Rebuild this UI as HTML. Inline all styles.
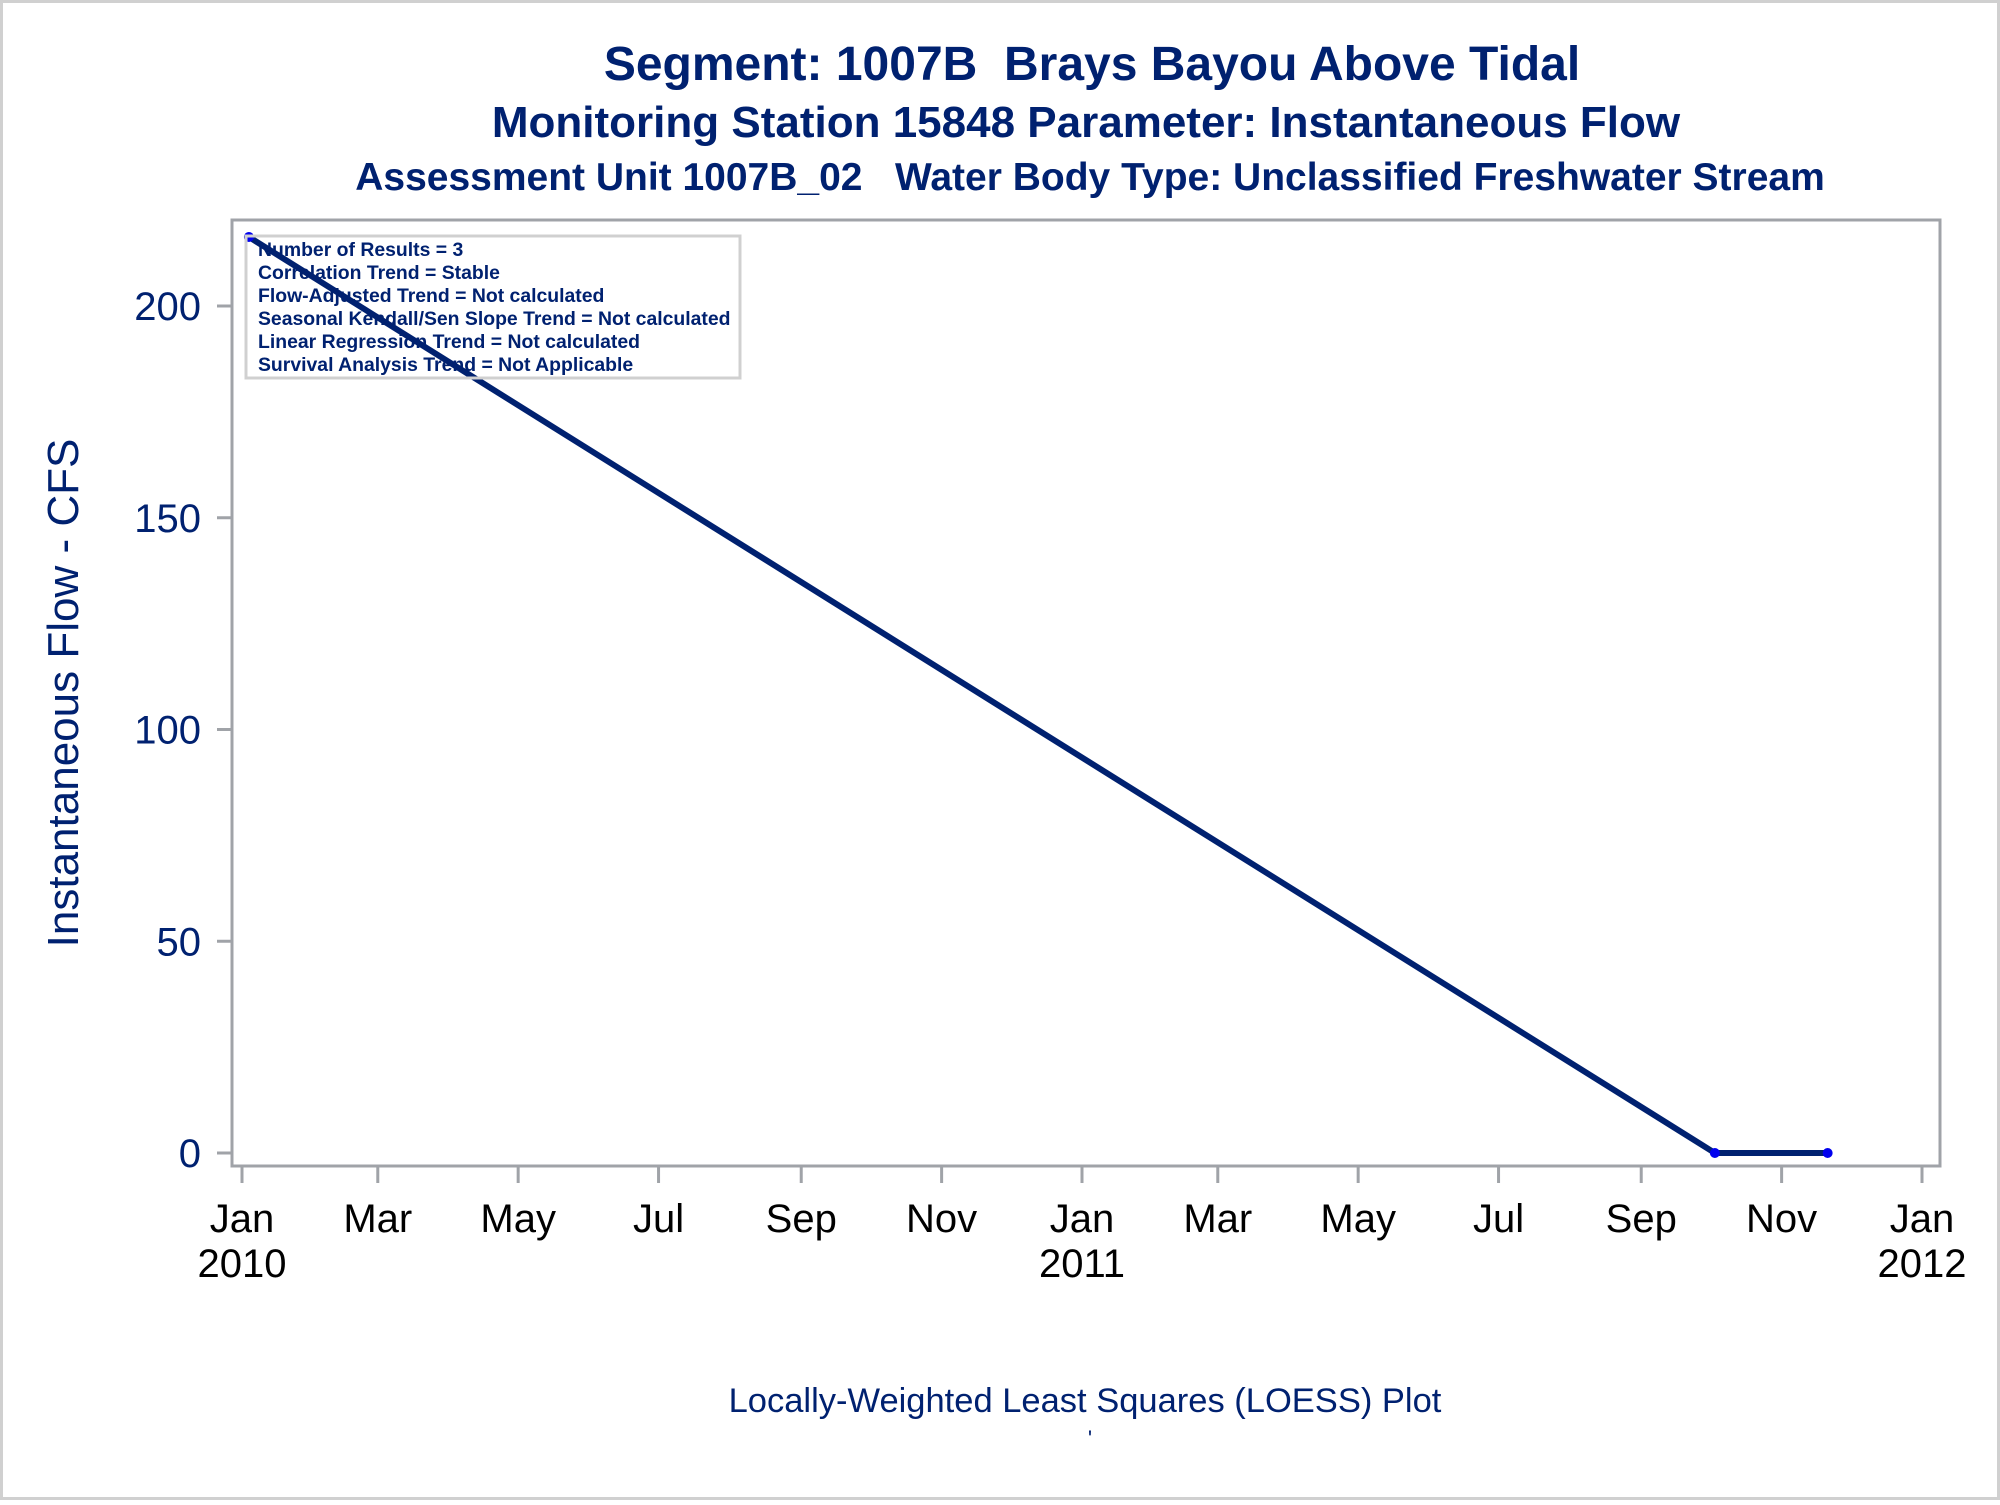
<!DOCTYPE html>
<html><head><meta charset="utf-8"><style>
body{margin:0;background:#fff}
svg text{font-family:"Liberation Sans",Arial,sans-serif;white-space:pre}
</style></head><body>
<svg width="2000" height="1500" viewBox="0 0 2000 1500" xmlns="http://www.w3.org/2000/svg">
<rect x="1.5" y="1.5" width="1997" height="1497" fill="#fff" stroke="#d0d0d0" stroke-width="3"/>
<g fill="#002170" font-weight="bold" text-anchor="middle">
<text x="1092" y="80" font-size="48" xml:space="preserve">Segment: 1007B  Brays Bayou Above Tidal</text>
<text x="1086" y="137" font-size="44">Monitoring Station 15848 Parameter: Instantaneous Flow</text>
<text x="1090" y="190" font-size="39" xml:space="preserve">Assessment Unit 1007B_02   Water Body Type: Unclassified Freshwater Stream</text>
</g>
<rect x="232" y="220" width="1708" height="946" fill="none" stroke="#a0a3a8" stroke-width="3"/>
<g id="yaxis"></g>
<g id="xaxis"></g>
<text transform="translate(78,693) rotate(-90)" text-anchor="middle" font-size="44" fill="#002170">Instantaneous Flow - CFS</text>
<g id="series"></g>
<g>
<rect x="246" y="236" width="494" height="142" fill="none" stroke="#d0d0d0" stroke-width="3"/>
<g font-family="'Liberation Sans Narrow','Liberation Sans',sans-serif" font-weight="bold" font-size="19.4" fill="#002170" id="stats"></g>
</g>
<text x="1085" y="1412" text-anchor="middle" font-size="34.5" fill="#002170">Locally-Weighted Least Squares (LOESS) Plot</text>
<text x="1090" y="1446" text-anchor="middle" font-size="22" fill="#002170">'</text>
</svg>
<script>
const dates=["2010-01-04","2011-10-03","2011-11-21"];
const values=[216.3,0,0];
const fitDates=["2010-01-04","2011-10-03","2011-11-21"];
const fitValues=[216.3,0,0];
const yTicks=[0,50,100,150,200];
const xTickDates=["2010-01-01","2010-03-01","2010-05-01","2010-07-01","2010-09-01","2010-11-01","2011-01-01","2011-03-01","2011-05-01","2011-07-01","2011-09-01","2011-11-01","2012-01-01"];
const xTickLabels=["Jan","Mar","May","Jul","Sep","Nov","Jan","Mar","May","Jul","Sep","Nov","Jan"];
const xTickYears=["2010","","","","","","2011","","","","","","2012"];
const statsLines=["Number of Results = 3","Correlation Trend = Stable","Flow-Adjusted Trend = Not calculated","Seasonal Kendall/Sen Slope Trend = Not calculated","Linear Regression Trend = Not calculated","Survival Analysis Trend = Not Applicable"];

const NS="http://www.w3.org/2000/svg";
const t0=Date.UTC(2010,0,1), t1=Date.UTC(2012,0,1);
function xs(d){const p=d.split("-").map(Number);const t=Date.UTC(p[0],p[1]-1,p[2]);return 242+(t-t0)/(t1-t0)*(1922-242);}
function ys(v){return 1153-v*(1153-306)/200;}
function mk(tag,attrs,parent){const e=document.createElementNS(NS,tag);for(const k in attrs)e.setAttribute(k,attrs[k]);parent.appendChild(e);return e;}

const ya=document.getElementById("yaxis");
yTicks.forEach(v=>{
 const l=mk("line",{x1:217,x2:232,y1:ys(v),y2:ys(v),stroke:"#a0a3a8","stroke-width":3},ya);
 
 
 const t=mk("text",{x:201,y:ys(v)+14,"text-anchor":"end","font-size":40,fill:"#002170"},ya);
 t.textContent=v;
 
 
});
const xa=document.getElementById("xaxis");
xTickDates.forEach((d,i)=>{
 const x=xs(d);
 const l=mk("line",{x1:x,x2:x,y1:1166,y2:1183,stroke:"#a0a3a8","stroke-width":3},xa);
 
 
 const t=mk("text",{x:x,y:1232,"text-anchor":"middle","font-size":40,fill:"#000"},xa);
 t.textContent=xTickLabels[i];
 
 
 if(xTickYears[i]){
  const y=mk("text",{x:x,y:1277,"text-anchor":"middle","font-size":40,fill:"#000"},xa);
  y.textContent=xTickYears[i];
  
  
 }
});
const sg=document.getElementById("series");
const pts=fitDates.map((d,i)=>xs(d)+","+ys(fitValues[i])).join(" ");
const pl=mk("polyline",{points:pts,fill:"none",stroke:"#002170","stroke-width":6,"stroke-linejoin":"round"},sg);


dates.forEach((d,i)=>{
 const c=mk("circle",{cx:xs(d),cy:ys(values[i]),r:5,fill:"#0000ee"},sg);
 
 
});
const st=document.getElementById("stats");
statsLines.forEach((s,i)=>{
 const t=mk("text",{x:258,y:256+i*23},st);
 t.textContent=s;
 
 
});
</script>
</body></html>
